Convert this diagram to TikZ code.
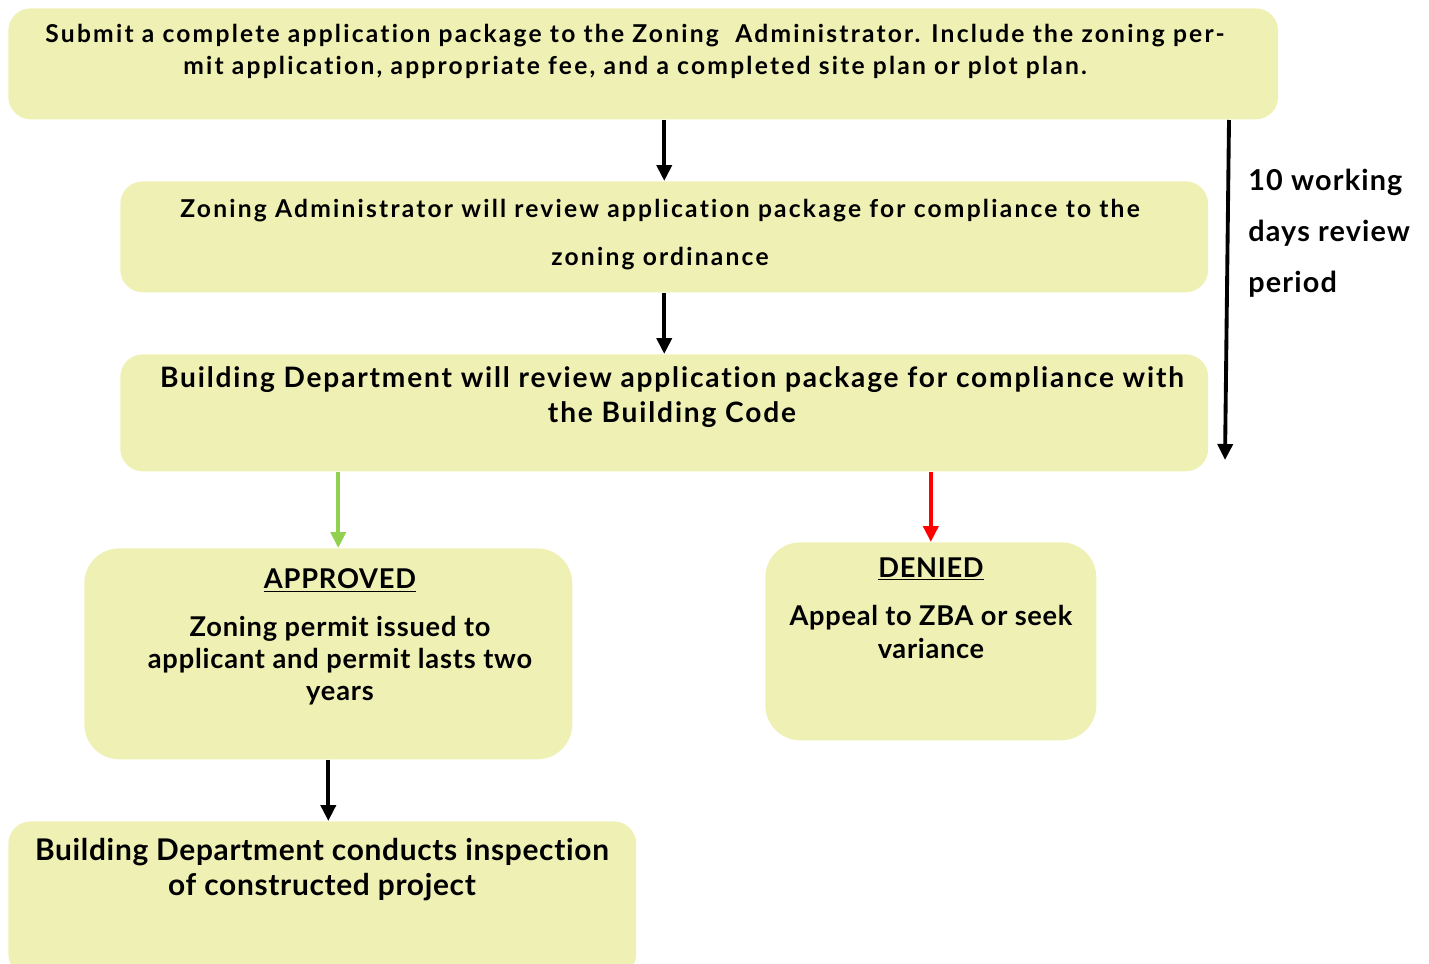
\documentclass[tikz,border=0pt]{standalone}
\usepackage{fontspec}
\setmainfont[Ligatures=NoCommon]{Lato}
\usetikzlibrary{arrows.meta, positioning}

\definecolor{boxfill}{HTML}{EFF0B4}
\definecolor{okgreen}{HTML}{92D050}
\definecolor{nored}{HTML}{FF0000}

\begin{document}
\begin{tikzpicture}[x=0.02cm, y=-0.02cm,
  box/.style = {fill=boxfill, rounded corners=0.45cm, inner sep=0, anchor=north west},
  txt/.style = {align=center, anchor=north, inner sep=0, font=\bfseries},
  flow/.style = {line width=2.2pt, -{Triangle[length=0.32cm, width=0.3cm]}}]
  \clip (0,0) rectangle (1429,963);

  % boxes
  \node[box, minimum width=25.4cm, minimum height=2.22cm] (submit) at (8,8) {};
  \node[box, minimum width=21.76cm, minimum height=2.22cm] (zoning) at (120,181) {};
  \node[box, minimum width=21.76cm, minimum height=2.34cm] (building) at (120,354) {};
  \node[box, rounded corners=0.7cm, minimum width=9.76cm, minimum height=4.22cm] (approved) at (84,548) {};
  \node[box, rounded corners=0.7cm, minimum width=6.62cm, minimum height=3.96cm] (denied) at (765,542) {};
  \node[box, minimum width=12.56cm, minimum height=3.1cm] (inspect) at (8,821) {};

  % texts
  \node[txt, font=\bfseries\fontsize{14}{18}\selectfont\addfontfeature{LetterSpace=9}] (submittxt) at (635,24)
    {Submit a complete application package to the Zoning\ \ Administrator. Include the zoning per-\\
     mit application, appropriate fee, and a completed site plan or plot plan.};
  \node[txt, font=\bfseries\fontsize{14}{27.5}\selectfont\addfontfeature{LetterSpace=9}] (zoningtxt) at (660,199)
    {Zoning Administrator will review application package for compliance to the\\
     zoning ordinance};
  \node[txt, font=\bfseries\fontsize{16}{20}\selectfont\addfontfeature{LetterSpace=6.5}] (buildingtxt) at (672,366)
    {Building Department will review application package for compliance with\\
     the Building Code};
  \node[txt, font=\bfseries\fontsize{15.5}{18.3}\selectfont\addfontfeature{LetterSpace=3}] (approvedtxt) at (340,568)
    {\underline{APPROVED}\\[9pt]
     Zoning permit issued to\\
     applicant and permit lasts two\\
     years};
  \node[txt, font=\bfseries\fontsize{15.5}{19}\selectfont\addfontfeature{LetterSpace=2.6}] (deniedtxt) at (931,557)
    {\underline{DENIED}\\[8.5pt]
     Appeal to ZBA or seek\\
     variance};
  \node[txt, font=\bfseries\fontsize{17}{20}\selectfont\addfontfeature{LetterSpace=2.3}] (inspecttxt) at (322,838)
    {Building Department conducts inspection\\
     of constructed project};
  \node[txt, anchor=north west, align=left, font=\bfseries\fontsize{16.4}{29}\selectfont\addfontfeature{LetterSpace=4}] (period) at (1248,169)
    {10 working\\days review\\period};

  % review period
  \coordinate (periodtop) at (1229,120);
  \coordinate (periodend) at (1225,460);

  % connectors
  \draw[flow] (submit.south -| zoning.north) -- (zoning.north);
  \draw[flow] (zoning.south) -- (building.north);
  \draw[flow, okgreen] ([xshift=-1]building.south -| approvedtxt.north) -- ([xshift=-1]approved.north -| approvedtxt.north);
  \draw[flow, nored] (building.south -| denied.north) -- (denied.north);
  \draw[flow] (approved.south) -- (approved.south |- inspect.north);
  \draw[flow] (periodtop) -- (periodend);
\end{tikzpicture}
\end{document}
